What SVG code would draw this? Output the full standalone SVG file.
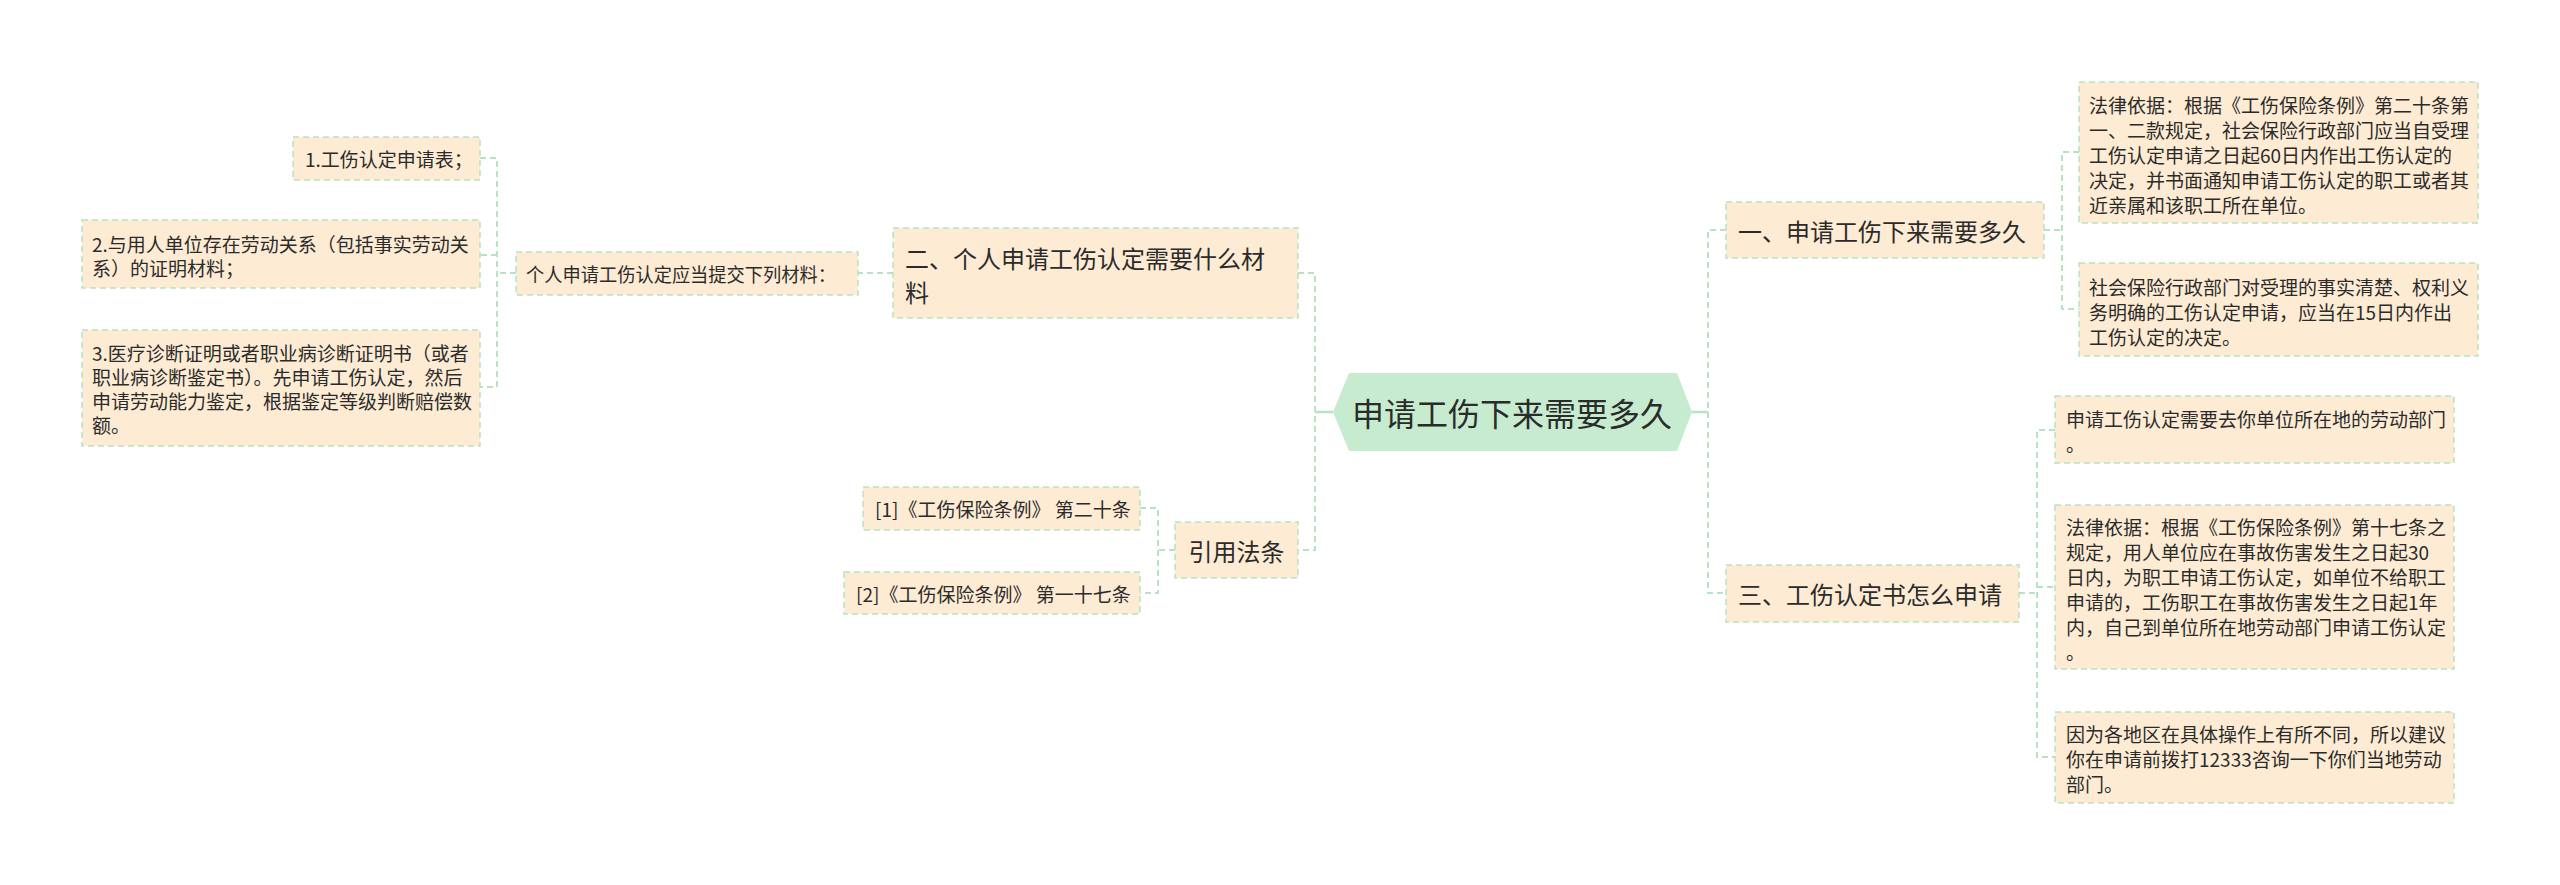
<svg xmlns="http://www.w3.org/2000/svg" width="2560" height="885" viewBox="0 0 2560 885">
<style>
.box{fill:#fdebd4;stroke:#b9e2c5;stroke-width:1.5;stroke-dasharray:6 4}
.hex{fill:#c6ebcf}
.t{font-family:"Noto Sans CJK SC","Noto Sans",sans-serif;fill:#2b2b2b;dominant-baseline:central}
.s{font-size:19px}
.m{font-size:24px}
.l{font-size:32px}
.c{fill:none;stroke:#b9e2c5;stroke-width:2;stroke-dasharray:6 4}
.cs{fill:none;stroke:#b9e2c5;stroke-width:2.5}
</style>
<rect width="2560" height="885" fill="#ffffff"/>
<g id="connectors">
<path class="cs" d="M1333,412 H1315"/>
<path class="cs" d="M1692,412 H1708"/>
<path class="c" d="M1298,273 H1315 V550 H1298"/>
<path class="c" d="M1726,230 H1708 V593 H1726"/>
<path class="c" d="M2044,230 H2062 M2079,152 H2062 V309 H2079"/>
<path class="c" d="M2019,593 H2037 M2055,430 H2037 V757 H2055 M2037,587 H2055"/>
<path class="c" d="M893,273 H858"/>
<path class="c" d="M516,273 H497 M480,158 H497 V387 H480 M497,255 H480"/>
<path class="c" d="M1175,550 H1158 M1140,508 H1158 V593 H1140"/>
</g>
<g id="root">
<polygon class="hex" points="1333,412 1349,373 1677,373 1692,412 1677,451 1349,451"/>
<text class="t l" x="1512" y="412" text-anchor="middle">申请工伤下来需要多久</text>
</g>
<g id="n1">
<rect class="box" x="1726" y="202" width="318" height="56"/>
<text class="t m" x="1738" y="230">一、申请工伤下来需要多久</text>
</g>
<g id="n1a">
<rect class="box" x="2079" y="82" width="399" height="141"/>
<text class="t s" x="2089" y="104">法律依据：根据《工伤保险条例》第二十条第</text>
<text class="t s" x="2089" y="129">一、二款规定，社会保险行政部门应当自受理</text>
<text class="t s" x="2089" y="154">工伤认定申请之日起60日内作出工伤认定的</text>
<text class="t s" x="2089" y="179">决定，并书面通知申请工伤认定的职工或者其</text>
<text class="t s" x="2089" y="204">近亲属和该职工所在单位。</text>
</g>
<g id="n1b">
<rect class="box" x="2079" y="263" width="399" height="93"/>
<text class="t s" x="2089" y="286">社会保险行政部门对受理的事实清楚、权利义</text>
<text class="t s" x="2089" y="311">务明确的工伤认定申请，应当在15日内作出</text>
<text class="t s" x="2089" y="336">工伤认定的决定。</text>
</g>
<g id="n3">
<rect class="box" x="1726" y="565" width="293" height="57"/>
<text class="t m" x="1738" y="593">三、工伤认定书怎么申请</text>
</g>
<g id="n3a">
<rect class="box" x="2055" y="396" width="399" height="67"/>
<text class="t s" x="2066" y="418">申请工伤认定需要去你单位所在地的劳动部门</text>
<text class="t s" x="2066" y="443">。</text>
</g>
<g id="n3b">
<rect class="box" x="2055" y="505" width="399" height="164"/>
<text class="t s" x="2066" y="526">法律依据：根据《工伤保险条例》第十七条之</text>
<text class="t s" x="2066" y="551">规定，用人单位应在事故伤害发生之日起30</text>
<text class="t s" x="2066" y="576">日内，为职工申请工伤认定，如单位不给职工</text>
<text class="t s" x="2066" y="601">申请的，工伤职工在事故伤害发生之日起1年</text>
<text class="t s" x="2066" y="626">内，自己到单位所在地劳动部门申请工伤认定</text>
<text class="t s" x="2066" y="651">。</text>
</g>
<g id="n3c">
<rect class="box" x="2055" y="712" width="399" height="91"/>
<text class="t s" x="2066" y="733">因为各地区在具体操作上有所不同，所以建议</text>
<text class="t s" x="2066" y="758">你在申请前拨打12333咨询一下你们当地劳动</text>
<text class="t s" x="2066" y="783">部门。</text>
</g>
<g id="n2">
<rect class="box" x="893" y="228" width="405" height="90"/>
<text class="t m" x="905" y="257">二、个人申请工伤认定需要什么材</text>
<text class="t m" x="905" y="291">料</text>
</g>
<g id="n2a">
<rect class="box" x="516" y="252" width="342" height="43"/>
<text class="t s" x="526" y="273" textLength="310" lengthAdjust="spacingAndGlyphs">个人申请工伤认定应当提交下列材料：</text>
</g>
<g id="n2a1">
<rect class="box" x="293" y="137" width="187" height="43"/>
<text class="t s" x="305" y="158">1.工伤认定申请表；</text>
</g>
<g id="n2a2">
<rect class="box" x="82" y="220" width="398" height="68"/>
<text class="t s" x="92" y="243">2.与用人单位存在劳动关系（包括事实劳动关</text>
<text class="t s" x="92" y="267">系）的证明材料；</text>
</g>
<g id="n2a3">
<rect class="box" x="82" y="330" width="398" height="116"/>
<text class="t s" x="92" y="352">3.医疗诊断证明或者职业病诊断证明书（或者</text>
<text class="t s" x="92" y="376">职业病诊断鉴定书）。先申请工伤认定，然后</text>
<text class="t s" x="92" y="400">申请劳动能力鉴定，根据鉴定等级判断赔偿数</text>
<text class="t s" x="92" y="424">额。</text>
</g>
<g id="n4">
<rect class="box" x="1175" y="522" width="123" height="56"/>
<text class="t m" x="1236.5" y="550" text-anchor="middle">引用法条</text>
</g>
<g id="n4a">
<rect class="box" x="863" y="487" width="277" height="43"/>
<text class="t s" x="875" y="508">[1]《工伤保险条例》 第二十条</text>
</g>
<g id="n4b">
<rect class="box" x="844" y="572" width="296" height="42"/>
<text class="t s" x="856" y="593">[2]《工伤保险条例》 第一十七条</text>
</g>
</svg>
